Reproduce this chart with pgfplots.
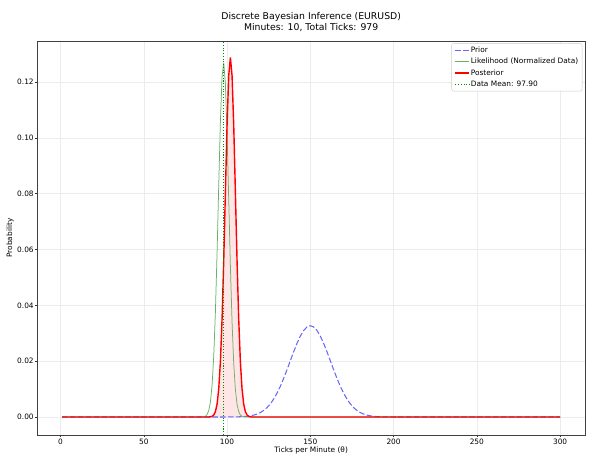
\documentclass[border=0pt]{standalone}
\usepackage{fontspec}
\setmainfont{DejaVu Sans}
\usepackage{pgfplots}
\usepackage{pgfplotstable}
\pgfplotsset{compat=1.18}

\newcommand\f{\fontsize{7.4}{8.9}\selectfont}
\newcommand\ft{\fontsize{9.3}{11.2}\selectfont}
\definecolor{gridc}{RGB}{236,236,236}
\definecolor{priorc}{RGB}{102,102,255}
\definecolor{likec}{RGB}{102,179,102}
\definecolor{meanc}{RGB}{0,140,0}
\definecolor{fillc}{RGB}{255,229,229}

% likelihood (normalized data)
\pgfplotstableread{
x y
1 0
84 0
85 0.0000274
86 0.0000967
87 0.000307
88 0.000882
89 0.002287
90 0.005361
91 0.011358
92 0.02174
93 0.03759
94 0.05873
95 0.08291
96 0.10575
97 0.12189
98 0.12694
99 0.11944
100 0.10155
101 0.07802
102 0.05415
103 0.03396
104 0.01924
105 0.009855
106 0.004558
107 0.001905
108 0.000720
109 0.000246
110 0.0000758
111 0.0000211
112 0
300 0
}\likelihood

% posterior
\pgfplotstableread{
x y
1 0
89 0
90 0.0000718
91 0.000238
92 0.000708
93 0.001904
94 0.004610
95 0.010066
96 0.01980
97 0.03507
98 0.05603
99 0.08064
100 0.10460
101 0.12227
102 0.1288
103 0.12227
104 0.10460
105 0.08064
106 0.05603
107 0.03507
108 0.01980
109 0.010066
110 0.004610
111 0.001904
112 0.000708
113 0.000238
114 0.0000718
115 0
300 0
}\posterior

% prior
\pgfplotstableread{
x y
1 0
98 0
102 0.0000142
106 0.000049
110 0.000152
112 0.000256
114 0.000421
116 0.000673
118 0.00105
120 0.00159
122 0.00235
124 0.00338
126 0.00472
128 0.00644
130 0.00853
132 0.01101
134 0.01384
136 0.01693
138 0.02016
140 0.02337
142 0.02638
144 0.02898
146 0.03099
148 0.03226
150 0.0327
152 0.03226
154 0.03099
156 0.02898
158 0.02638
160 0.02337
162 0.02016
164 0.01693
166 0.01384
168 0.01101
170 0.00853
172 0.00644
174 0.00472
176 0.00338
178 0.00235
180 0.00159
182 0.00105
184 0.000673
186 0.000421
188 0.000256
190 0.000152
194 0.000049
198 0.0000142
202 0
300 0
}\prior

\begin{document}
\begin{tikzpicture}
\useasboundingbox (-37.3pt,-33pt) rectangle (563.7pt,435pt);
\begin{axis}[
  scale only axis,
  width=547.7pt, height=394pt,
  xmin=-13.95, xmax=314.95,
  ymin=-0.00645, ymax=0.1347,
  xtick={0,50,...,300},
  ytick={0,0.02,0.04,0.06,0.08,0.1,0.12},
  scaled y ticks=false,
  yticklabel style={/pgf/number format/.cd, fixed, fixed zerofill, precision=2},
  /pgf/number format/assume math mode=true,
  tick pos=left, tick align=outside,
  major tick length=2.4pt,
  every tick/.style={black!80, line width=0.55pt},
  every tick label/.append style={font=\f, inner sep=1pt},
  axis line style={black!75, line width=0.6pt},
  grid=major,
  major grid style={gridc, line width=0.55pt},
  title={Discrete Bayesian Inference (EURUSD)\\Minutes: 10, Total Ticks: 979},
  title style={font=\ft, align=center, at={(0.5,1)}, anchor=south, yshift=2pt, inner sep=1pt},
  xlabel={Ticks per Minute (θ)},
  ylabel={Probability},
  label style={font=\f},
  xlabel style={yshift=2pt},
  ylabel style={yshift=-1pt},
  legend image code/.code={\draw[#1] plot coordinates {(0pt,0pt) (14pt,0pt)};},
  legend style={at={(0.995,0.994)}, anchor=north east, draw=black!20,
    rounded corners=2pt, fill=white, font=\f, row sep=2.6pt,
    inner xsep=3pt, inner ysep=2.5pt,
    nodes={inner sep=0.8pt}},
  legend cell align=left,
]
\addplot[draw=none, fill=fillc, forget plot] table[x=x,y=y] {\posterior} \closedcycle;
\addplot[priorc, dash pattern=on 5.5pt off 2.4pt, line width=1.04pt] table[x=x,y=y] {\prior};
\addplot[likec, line width=0.75pt] table[x=x,y=y] {\likelihood};
\addplot[red, line width=1.4pt] table[x=x,y=y] {\posterior};
\addplot[meanc, dash pattern=on 1.04pt off 1.7pt, line width=1.04pt] coordinates {(97.9,-0.00645) (97.9,0.1347)};
\legend{Prior, Likelihood (Normalized Data), Posterior, Data Mean: 97.90}
\end{axis}
\end{tikzpicture}
\end{document}
